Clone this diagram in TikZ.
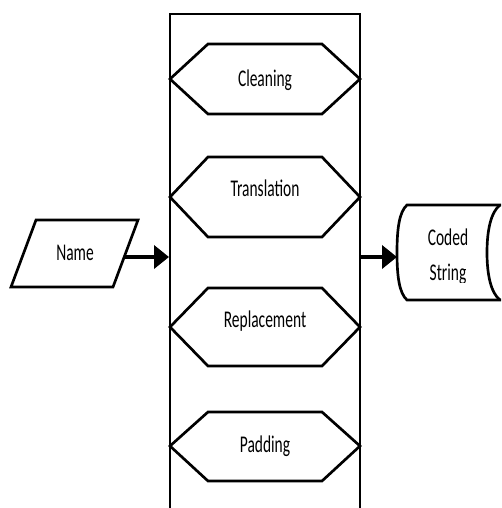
\documentclass[tikz,border=0pt]{standalone}
\usepackage{fontspec}
\usepackage{graphicx}
\setmainfont{Carlito}
\usetikzlibrary{arrows.meta}
\newcommand\tallText[1]{\scalebox{1}[1.55]{#1}}
\begin{document}
\begin{tikzpicture}[x=0.75pt,y=-0.75pt,
  outline/.style={draw=black,line width=2pt,line join=miter},
  frame/.style={draw=black,line width=1.5pt},
  arr/.style={draw=black,line width=3pt,-{Triangle[length=11.25pt,width=17.25pt]}},
  lbl/.style={inner sep=0pt,anchor=base,font=\fontsize{11.6}{14}\selectfont}]
\useasboundingbox (0,0) rectangle (501,508);
\clip (0,0) rectangle (501,508);
\fill[white] (0,0) rectangle (501,508);

% container frame (open at the bottom)
\draw[frame] (170,520) -- (170,14) -- (360,14) -- (360,520);

% hexagons
\draw[outline] (170,79) -- (208,44) -- (322,44) -- (360,79) -- (322,114) -- (208,114) -- cycle;
\draw[outline] (170,197) -- (208,157) -- (322,157) -- (360,197) -- (322,237) -- (208,237) -- cycle;
\draw[outline] (170,327) -- (208,288) -- (322,288) -- (360,327) -- (322,366) -- (208,366) -- cycle;
\draw[outline] (170,446) -- (208,412) -- (322,412) -- (360,446) -- (322,481) -- (208,481) -- cycle;

\node[lbl] (cleaning) at (265,86) {\tallText{Cleaning}};
\node[lbl] (translation) at (265,196) {\tallText{Translation}};
\node[lbl] (replacement) at (265,327) {\tallText{Replacement}};
\node[lbl] (padding) at (265,452) {\tallText{Padding}};

% input parallelogram
\draw[outline] (36,220) -- (138,220) -- (113,287) -- (11,287) -- cycle;
\node[lbl] (name) at (75,260) {\tallText{Name}};

% output storage shape
\draw[outline] (510,205) -- (407,205)
  .. controls (399,212) and (397,230) .. (397,252.5)
  .. controls (397,275) and (399,293) .. (407,300) -- (510,300);
\draw[outline] (500,205)
  .. controls (491,212) and (487,230) .. (487,252.5)
  .. controls (487,275) and (491,293) .. (500,300);
\node[lbl] (coded) at (448,245) {\tallText{Coded}};
\begin{scope}
  \clip (380,200) rectangle (480,282);
  \node[lbl] (string) at (448,280) {\tallText{String}};
\end{scope}

% connectors
\coordinate (nameout) at (124,257);
\coordinate (framein) at (169,257);
\coordinate (frameout) at (360,257);
\coordinate (storein) at (397,257);
\draw[arr] (nameout) -- (framein);
\draw[arr] (frameout) -- (storein);
\end{tikzpicture}
\end{document}
